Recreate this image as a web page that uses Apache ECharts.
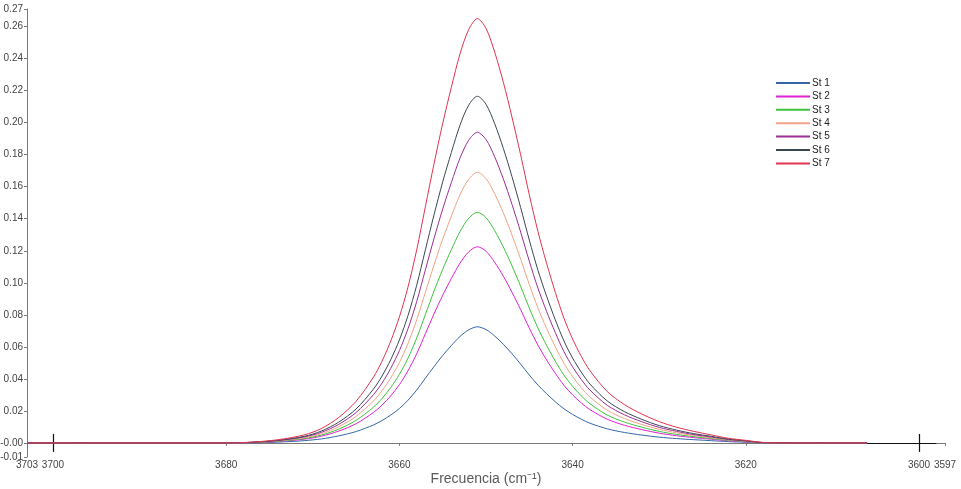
<!DOCTYPE html>
<html>
<head>
<meta charset="utf-8">
<title>Frecuencia</title>
<script src="https://cdn.jsdelivr.net/npm/echarts@6/dist/echarts.min.js"></script>
<style>
  html, body { margin: 0; padding: 0; background: #fff; }
  #chart { width: 961px; height: 489px; }
</style>
</head>
<body>
<div id="chart"></div>
<script>
// wavenumber samples (cm-1)
var freq = [3703, 3700, 3690, 3680, 3677, 3674, 3671, 3669, 3667, 3665, 3663, 3662, 3661, 3660, 3659, 3658, 3657, 3656, 3655, 3654, 3653, 3652, 3651, 3650, 3649, 3648, 3647, 3646, 3645, 3644, 3643, 3642, 3641, 3640, 3639, 3638, 3636, 3634, 3632, 3630, 3628, 3626, 3624, 3622, 3620, 3618, 3615, 3610, 3606]

var st1 = [0, 0, 0, 0, 0.0001, 0.0005, 0.0014, 0.0025, 0.0044, 0.0071, 0.0112, 0.0140, 0.0174, 0.0215, 0.0267, 0.0330, 0.0404, 0.0477, 0.0546, 0.0608, 0.0665, 0.0706, 0.0725, 0.0708, 0.0668, 0.0616, 0.0557, 0.0492, 0.0424, 0.0361, 0.0307, 0.0257, 0.0213, 0.0178, 0.0148, 0.0123, 0.0088, 0.0065, 0.0049, 0.0036, 0.0027, 0.0020, 0.0014, 0.0008, 0.0004, 0.0001, 0, 0, 0]
var st2 = [0, 0, 0, 0, 0.0002, 0.0009, 0.0023, 0.0042, 0.0074, 0.0120, 0.0190, 0.0236, 0.0294, 0.0364, 0.0451, 0.0557, 0.0682, 0.0806, 0.0922, 0.1027, 0.1123, 0.1193, 0.1225, 0.1197, 0.1128, 0.1041, 0.0941, 0.0832, 0.0717, 0.0610, 0.0518, 0.0435, 0.0360, 0.0300, 0.0250, 0.0208, 0.0148, 0.0110, 0.0083, 0.0061, 0.0045, 0.0033, 0.0023, 0.0013, 0.0007, 0.0001, 0, 0, 0]
var st3 = [0, 0, 0, 0, 0.0003, 0.0011, 0.0027, 0.0049, 0.0086, 0.0141, 0.0223, 0.0278, 0.0346, 0.0428, 0.0530, 0.0655, 0.0802, 0.0948, 0.1084, 0.1207, 0.1320, 0.1403, 0.1440, 0.1407, 0.1326, 0.1224, 0.1106, 0.0978, 0.0842, 0.0717, 0.0609, 0.0511, 0.0423, 0.0353, 0.0294, 0.0245, 0.0174, 0.0130, 0.0098, 0.0072, 0.0053, 0.0039, 0.0027, 0.0016, 0.0009, 0.0001, 0, 0, 0]
var st4 = [0, 0, 0, 0, 0.0003, 0.0013, 0.0032, 0.0057, 0.0101, 0.0166, 0.0262, 0.0326, 0.0406, 0.0502, 0.0622, 0.0769, 0.0941, 0.1112, 0.1273, 0.1416, 0.1550, 0.1646, 0.1690, 0.1651, 0.1556, 0.1437, 0.1298, 0.1148, 0.0989, 0.0842, 0.0715, 0.0600, 0.0497, 0.0414, 0.0345, 0.0287, 0.0204, 0.0152, 0.0115, 0.0085, 0.0063, 0.0046, 0.0032, 0.0019, 0.0010, 0.0002, 0, 0, 0]
var st5 = [0, 0, 0, 0, 0.0004, 0.0015, 0.0037, 0.0066, 0.0116, 0.0190, 0.0301, 0.0374, 0.0466, 0.0576, 0.0714, 0.0883, 0.1081, 0.1277, 0.1461, 0.1626, 0.1779, 0.1890, 0.1940, 0.1895, 0.1787, 0.1649, 0.1490, 0.1317, 0.1135, 0.0966, 0.0821, 0.0689, 0.0570, 0.0475, 0.0396, 0.0330, 0.0235, 0.0175, 0.0132, 0.0097, 0.0072, 0.0052, 0.0037, 0.0021, 0.0012, 0.0002, 0, 0, 0]
var st6 = [0, 0, 0, 0, 0.0004, 0.0016, 0.0041, 0.0074, 0.0130, 0.0212, 0.0336, 0.0418, 0.0520, 0.0643, 0.0797, 0.0985, 0.1206, 0.1425, 0.1630, 0.1814, 0.1985, 0.2109, 0.2165, 0.2115, 0.1994, 0.1840, 0.1663, 0.1470, 0.1267, 0.1078, 0.0916, 0.0769, 0.0637, 0.0530, 0.0442, 0.0368, 0.0262, 0.0195, 0.0147, 0.0108, 0.0080, 0.0058, 0.0041, 0.0024, 0.0013, 0.0002, 0, 0, 0]
var st7 = [0, 0, 0, 0, 0.0005, 0.0020, 0.0050, 0.0090, 0.0159, 0.0260, 0.0411, 0.0511, 0.0636, 0.0787, 0.0975, 0.1206, 0.1476, 0.1744, 0.1995, 0.2221, 0.2430, 0.2581, 0.2650, 0.2589, 0.2441, 0.2253, 0.2035, 0.1799, 0.1550, 0.1320, 0.1121, 0.0941, 0.0779, 0.0649, 0.0541, 0.0451, 0.0321, 0.0239, 0.0180, 0.0133, 0.0098, 0.0072, 0.0050, 0.0029, 0.0016, 0.0003, 0, 0, 0]

var names = ['St 1', 'St 2', 'St 3', 'St 4', 'St 5', 'St 6', 'St 7']
var colors = ['#3567a8', '#e21fd2', '#3cc43c', '#f2a383', '#9c2e95', '#3a4854', '#e2334f']
var values = [st1, st2, st3, st4, st5, st6, st7]

// tick labels
var xTicks = [3703, 3700, 3680, 3660, 3640, 3620, 3600, 3597]
var yTicks = [-0.0088, -0.0001, 0.02, 0.04, 0.06, 0.08, 0.10, 0.12, 0.14, 0.16, 0.18, 0.20, 0.22, 0.24, 0.26, 0.271]
// cursor marks on the baseline
var cursors = [3700, 3600]

var chart = echarts.init(document.getElementById('chart'))

var series = values.map(function(v, i) {
  return {
    name: names[i],
    type: 'line',
    smooth: 0.3,
    showSymbol: false,
    symbol: 'none',
    lineStyle: { width: 1, color: colors[i] },
    itemStyle: { color: colors[i] },
    data: freq.map(function(f, j) { return [f, v[j]] }),
    z: 2 + i
  }
})

series.push({
  name: 'cursor',
  type: 'line',
  data: [],
  silent: true,
  markLine: {
    silent: true,
    symbol: 'none',
    label: { show: false },
    lineStyle: { color: '#111', width: 1.2, type: 'solid' },
    data: cursors.map(function(c) {
      return [{ coord: [c, -0.0056] }, { coord: [c, 0.0056] }]
    }).concat([[{ coord: [3606, 0] }, { coord: [3598, 0] }]])
  },
  z: 20
})

chart.setOption({
  backgroundColor: '#ffffff',
  animation: false,
  textStyle: { fontFamily: 'Liberation Sans, Arial, sans-serif' },
  legend: {
    data: names,
    orient: 'vertical',
    left: 771,
    top: 72,
    icon: 'rect',
    itemWidth: 34,
    itemHeight: 2,
    itemGap: 1.4,
    textStyle: { fontSize: 10, color: '#222', lineHeight: 12, padding: [0, 0, 0, -3] }
  },
  grid: {
    left: 27,
    right: 16,
    top: 9,
    bottom: 32,
    outerBoundsMode: 'none'
  },
  xAxis: {
    type: 'value',
    inverse: true,
    min: 3597,
    max: 3703,
    name: 'Frecuencia (cm⁻¹)',
    nameLocation: 'middle',
    nameGap: 15,
    nameMoveOverlap: false,
    nameTextStyle: { fontSize: 14, color: '#5a5a5a' },
    axisLine: { lineStyle: { color: '#7a7a7a', width: 1 } },
    axisTick: { customValues: xTicks, length: 3, lineStyle: { color: '#7a7a7a' } },
    axisLabel: {
      customValues: xTicks,
      fontSize: 10,
      color: '#444',
      margin: 3,
      formatter: function(v) { return String(v) }
    },
    splitLine: { show: false }
  },
  yAxis: {
    type: 'value',
    min: -0.0088,
    max: 0.271,
    axisLine: { show: true, lineStyle: { color: '#7a7a7a', width: 1 } },
    axisTick: { show: true, customValues: yTicks, length: 3, lineStyle: { color: '#7a7a7a' } },
    axisLabel: {
      customValues: yTicks,
      fontSize: 10,
      color: '#444',
      margin: 4,
      formatter: function(v) { return v.toFixed(2) }
    },
    splitLine: { show: false }
  },
  series: series
})
</script>
</body>
</html>
